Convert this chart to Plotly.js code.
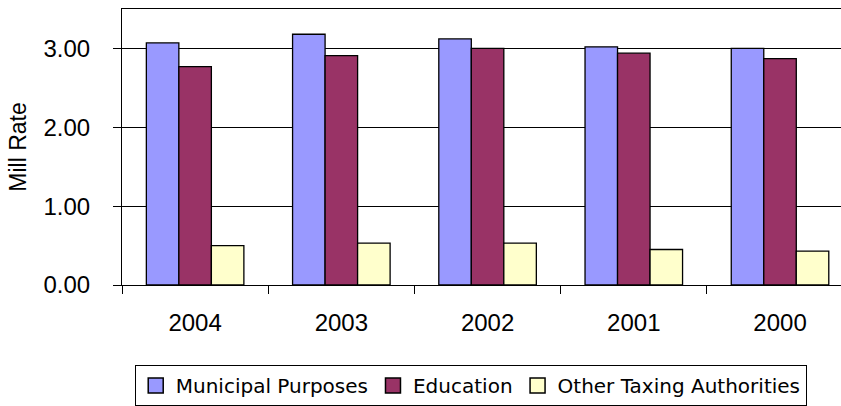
<!DOCTYPE html>
<html>
<head>
<meta charset="utf-8">
<script src="https://cdn.plot.ly/plotly-3.0.1.min.js"></script>
<style>html,body{margin:0;padding:0;background:#fff;}#chart{width:841px;height:406px;}</style>
</head>
<body>
<div id="chart"></div>
<script>
const years = ["2004", "2003", "2002", "2001", "2000"];
const municipal = [3.07, 3.18, 3.12, 3.02, 3.00];
const education = [2.77, 2.91, 3.00, 2.94, 2.87];
const other = [0.50, 0.53, 0.53, 0.45, 0.43];
const seriesNames = ["Municipal Purposes", "Education", "Other Taxing Authorities"];
const seriesColors = ["#9999FF", "#993366", "#FFFFCC"];

const seriesValues = [municipal, education, other];
const traces = seriesValues.map((vals, i) => ({
  type: "bar",
  name: seriesNames[i],
  x: years,
  y: vals,
  showlegend: false,
  marker: { color: seriesColors[i], line: { color: "#000", width: 1.3 } },
  hoverinfo: "x+y+name"
}));
// legend entries (larger square swatches like the original)
seriesNames.forEach((nm, i) => {
  traces.push({
    type: "scatter",
    mode: "markers",
    name: nm,
    x: [null],
    y: [null],
    showlegend: true,
    marker: { symbol: "square", size: 15, color: seriesColors[i], line: { color: "#000", width: 1.5 } },
    hoverinfo: "skip"
  });
});

const layout = {
  width: 841,
  height: 406,
  margin: { l: 122, r: 0, t: 9, b: 121 },
  paper_bgcolor: "#fff",
  plot_bgcolor: "#fff",
  barmode: "group",
  bargap: 0.333,
  bargroupgap: 0,
  showlegend: true,
  font: { family: "Liberation Sans, Arial, sans-serif", color: "#000", size: 24 },
  xaxis: {
    type: "category",
    categoryorder: "array",
    categoryarray: years,
    range: [-0.5, 4.417],
    showline: true, linecolor: "#000", linewidth: 1,
    mirror: true,
    ticks: "outside", ticklen: 8, tickcolor: "#000", tickwidth: 1,
    tickson: "boundaries",
    ticklabelstandoff: 16,
    showgrid: false,
    tickfont: { size: 24 }
  },
  yaxis: {
    range: [0, 3.5],
    dtick: 1,
    tickformat: ".2f",
    showline: true, linecolor: "#000", linewidth: 1,
    ticks: "outside", ticklen: 8, tickcolor: "#000", tickwidth: 1,
    ticklabelstandoff: 18,
    showgrid: true, gridcolor: "#000", gridwidth: 1,
    zeroline: false,
    tickfont: { size: 24 },
    title: { text: "Mill Rate", font: { size: 23 }, standoff: 10 }
  },
  legend: {
    orientation: "h",
    x: 0.485, xanchor: "center", xref: "paper",
    y: -0.29, yanchor: "top",
    bordercolor: "#000", borderwidth: 1, bgcolor: "#fff",
    font: { family: "DejaVu Sans, sans-serif", size: 20 },
    itemwidth: 30,
    itemsizing: "trace",
    traceorder: "normal"
  }
};

Plotly.newPlot("chart", traces, layout, { displayModeBar: false, staticPlot: true });
</script>
</body>
</html>
